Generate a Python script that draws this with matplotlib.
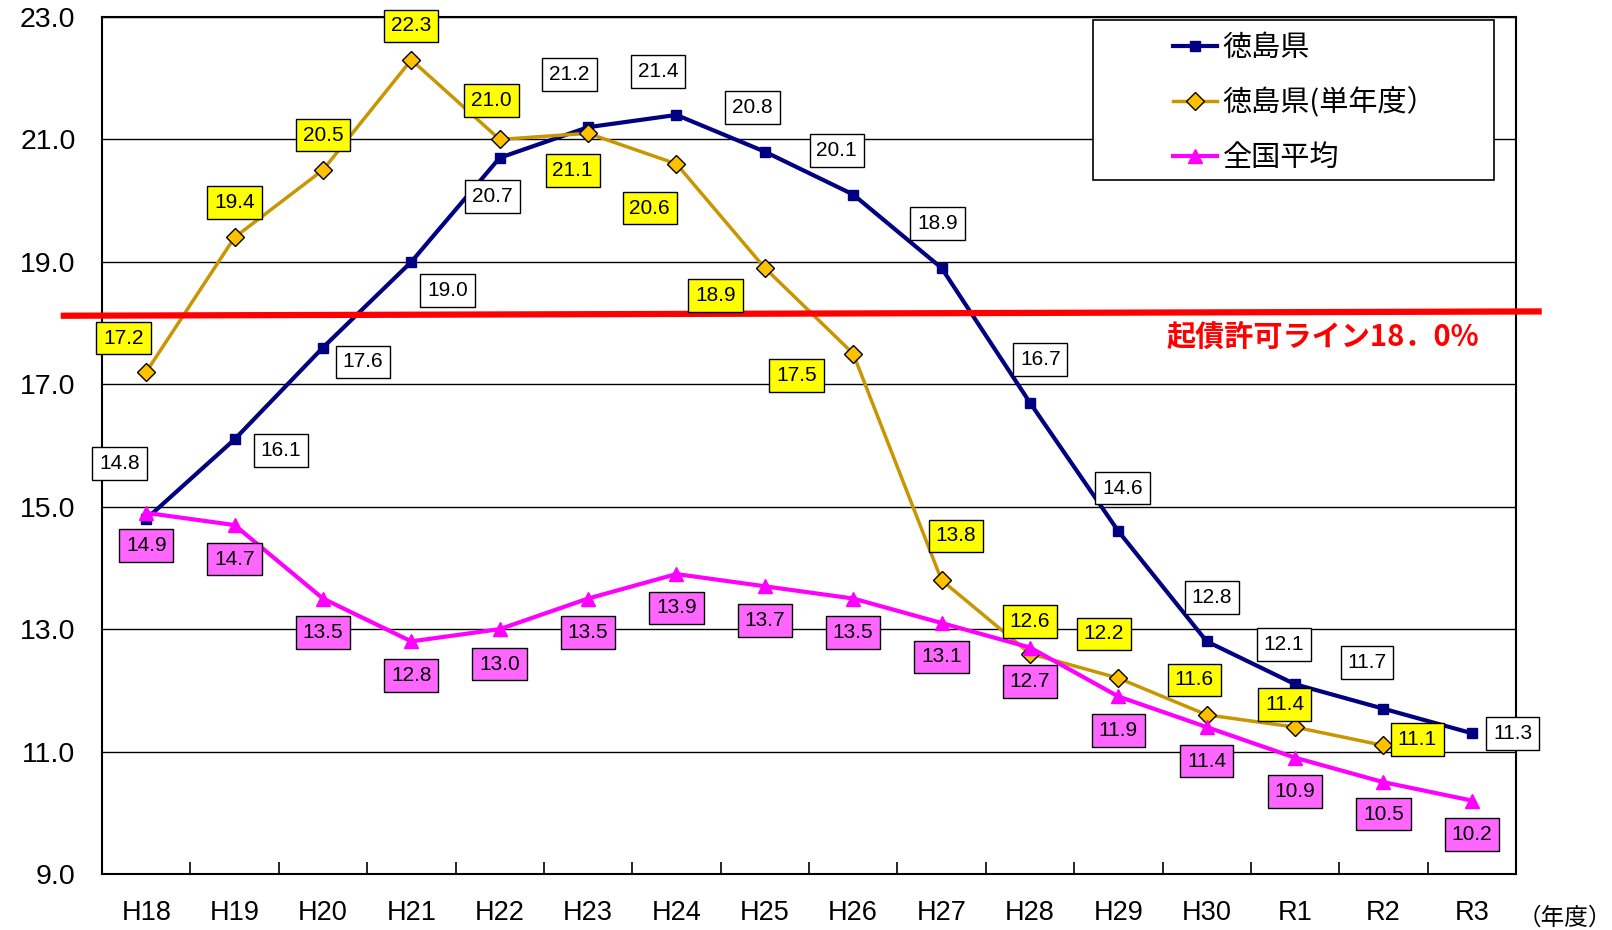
import numpy as np
import matplotlib
matplotlib.use("Agg")
import matplotlib.pyplot as plt
from matplotlib.patches import Rectangle
import matplotlib.transforms as mtransforms

plt.rcParams['font.family'] = ['Liberation Sans', 'Noto Sans CJK JP']

# データ（実質公債費比率 %）
years = ["H18", "H19", "H20", "H21", "H22", "H23", "H24", "H25",
         "H26", "H27", "H28", "H29", "H30", "R1", "R2", "R3"]
tokushima = [14.8, 16.1, 17.6, 19.0, 20.7, 21.2, 21.4, 20.8,
             20.1, 18.9, 16.7, 14.6, 12.8, 12.1, 11.7, 11.3]
tokushima_single = [17.2, 19.4, 20.5, 22.3, 21.0, 21.1, 20.6, 18.9,
                    17.5, 13.8, 12.6, 12.2, 11.6, 11.4, 11.1]
national = [14.9, 14.7, 13.5, 12.8, 13.0, 13.5, 13.9, 13.7,
            13.5, 13.1, 12.7, 11.9, 11.4, 10.9, 10.5, 10.2]
limit_line = 18.0

# ラベル位置のずれ（ピクセル, 右・下が正）
off_tok = [(-26, -54), (45, 11), (39, 14), (35, 28), (-7, 38), (-18, -51),
           (-18, -42), (-12, -43), (-16, -43), (-4, -43), (10, -42), (4, -42),
           (5, -43), (-11, -39), (-16, -45), (40, 0)]
off_single = [(-22, -33), (0, -34), (0, -34), (0, -33), (-8, -38), (-15, 36),
              (-26, 43), (-48, 27), (-55, 21), (14, -43), (0, -31), (-14, -43),
              (-12, -34), (-10, -22), (33, -6)]
off_nat = [(0, 32), (0, 33), (0, 33), (0, 33), (0, 34), (0, 33), (0, 33),
           (0, 33), (0, 33), (0, 33), (0, 33), (0, 33), (0, 33), (0, 33),
           (0, 31), (0, 33)]

W, H = 1612, 930
fig = plt.figure(figsize=(W / 100, H / 100), dpi=100)
ax = fig.add_axes([102 / W, (H - 874) / H, 1414 / W, 857 / H])

x = np.arange(len(years))
ax.plot(x, tokushima, color="#000080", lw=3, marker="s", ms=7,
        label="徳島県", zorder=3)
ax.plot(x[:len(tokushima_single)], tokushima_single, color="#C89600", lw=2.5,
        marker="D", ms=9, mfc="#FFC000", mec="black", mew=1,
        label="徳島県(単年度）", zorder=3)
ax.plot(x, national, color="#FF00FF", lw=3, marker="^", ms=10,
        label="全国平均", zorder=3)

# 起債許可ライン
trans = mtransforms.blended_transform_factory(ax.transAxes, ax.transData)
ax.plot([-0.027, 1.016], [limit_line + 0.12, limit_line + 0.19], color="red",
        lw=4.5, transform=trans, clip_on=False, zorder=4)
fig.text(1323 / W, 1 - 337 / H, "起債許可ライン18．0%", color="red",
         fontsize=21, fontweight="bold", ha="center", va="center",
         family=["Noto Sans CJK JP"])

s = 1.028


def add_labels(vals, offs, fc):
    for i, (v, (dx, dy)) in enumerate(zip(vals, offs)):
        ax.annotate(f"{v:.1f}", (i, v), xytext=(dx * s, -dy * s),
                    textcoords="offset pixels", ha="center", va="center",
                    fontsize=15, zorder=5,
                    bbox=dict(boxstyle="square,pad=0.33", fc=fc,
                              ec="black", lw=1))


add_labels(tokushima, off_tok, "white")
add_labels(tokushima_single, off_single, "#FFFF00")
add_labels(national, off_nat, "#FF66FF")

ax.set_xlim(-0.5, len(years) - 0.5)
ax.set_ylim(9, 23)
ax.set_yticks(np.arange(9, 24, 2))
ax.set_yticklabels([f"{v:.1f}" for v in np.arange(9, 24, 2)], fontsize=20.5)
ax.set_xticks(x)
ax.set_xticklabels(years, fontsize=19.5)
ax.set_xticks(np.arange(0.5, len(years) - 0.5, 1), minor=True)
ax.tick_params(axis="x", which="major", length=0, pad=19)
ax.tick_params(axis="x", which="minor", direction="in", length=9,
               width=1.2)
ax.tick_params(axis="y", length=0, pad=19)
ax.grid(axis="y", color="black", lw=1)
ax.set_axisbelow(True)
for sp in ax.spines.values():
    sp.set_color("black")
    sp.set_linewidth(1.5)

fig.text(1565 / W, 1 - 918 / H, "（年度）", fontsize=17, ha="center",
         va="center", family=["Noto Sans CJK JP"])

# 凡例
ax.add_patch(Rectangle((1093 / W, 1 - 180 / H), 401 / W, 160 / H,
                       transform=fig.transFigure, fc="white",
                       ec="black", lw=1.2, zorder=6, clip_on=False))
leg = ax.legend(loc="upper left", bbox_to_anchor=(1173 / W, 1 - 33 / H),
                bbox_transform=fig.transFigure, frameon=False, borderpad=0,
                borderaxespad=0, handlelength=1.5, handletextpad=0.2,
                labelspacing=0.85, prop={"size": 21, "family": ["Noto Sans CJK JP"]})
leg.set_zorder(7)

fig.savefig("out.png", dpi=100)
